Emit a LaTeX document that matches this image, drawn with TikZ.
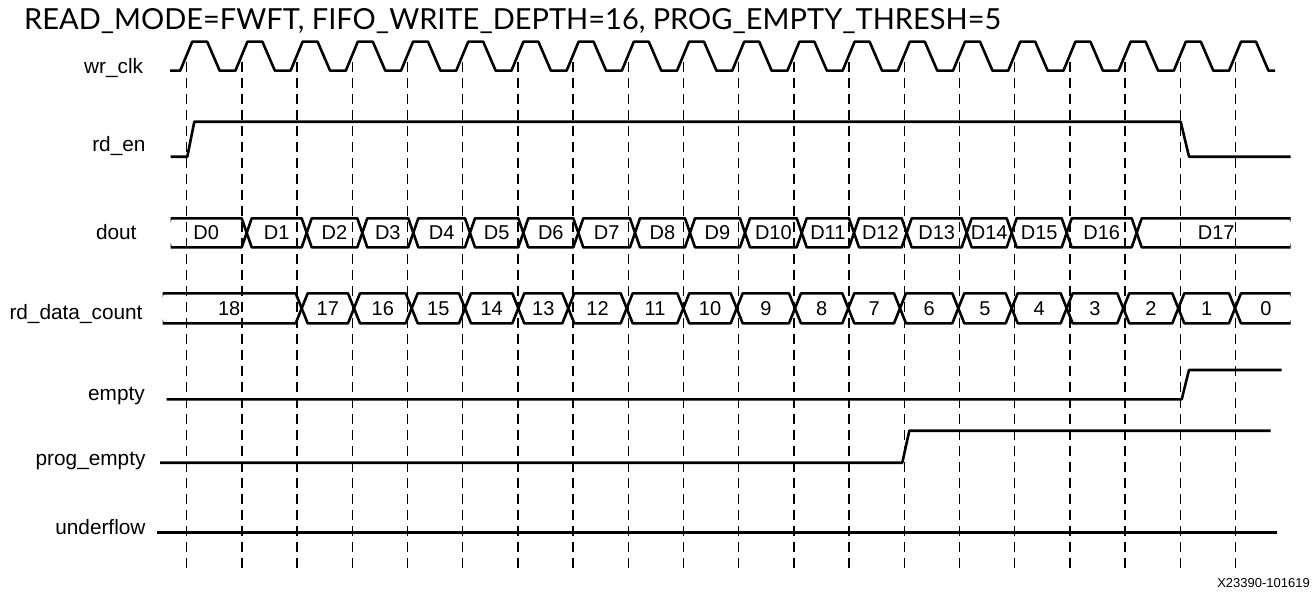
\documentclass[tikz,border=0pt]{standalone}
\usepackage{fontspec}
\setmainfont{Liberation Sans}
\newfontfamily\titlefont{Lato}
\usepackage{tikz}
\newcommand{\sigsz}  {\fontsize{20.8}{22}\selectfont}
\newcommand{\valsz}  {\fontsize{20}{22}\selectfont}

\begin{document}
\begin{tikzpicture}[x=1pt,y=-1pt,
    wave/.style={line width=2.6pt,line join=round},
    edgeline/.style={line width=1.5pt,dash pattern=on 10pt off 6pt},
    signame/.style={anchor=base east,inner sep=0pt,font=\sigsz},
    busval/.style={inner sep=0pt,font=\valsz}]
    \useasboundingbox (0,0) rectangle (1315,594);
    \node[anchor=base west,inner sep=0pt,font=\titlefont\fontsize{29}{31}\selectfont] (title) at (24,30)
        {READ\_MODE=FWFT, FIFO\_WRITE\_DEPTH=16, PROG\_EMPTY\_THRESH=5};
    \foreach \i in {0,...,19}
        \draw[edgeline] ({186.7+55.2*\i},62) -- ({186.7+55.2*\i},570);
    \draw[wave] (170,70.7) foreach \i in {0,...,19} {
        -- ({180.2+55.2*\i},70.7) -- ({192.2+55.2*\i},41.7)
        -- ({207.2+55.2*\i},41.7) -- ({219.7+55.2*\i},70.7) } -- (1275,70.7);
    \draw[wave] (170.7,156.7) -- (187.3,156.7) -- (194.3,121.7) -- (1180.7,121.7) -- (1189,156.7) -- (1290.7,156.7);
    \begin{scope}
        \clip (170.7,200) rectangle (1290.7,260);
        \foreach \a/\b/\v [count=\k] in {165.7/246.7/D0, 246.7/306.7/D1, 306.7/362.3/D2, 362.3/413.3/D3,
            413.3/470/D4, 470/523.3/D5, 523.3/578.3/D6, 578.3/635/D7, 635/690/D8, 690/745/D9,
            745/801.7/D10, 801.7/854/D11, 854/906.7/D12, 906.7/966.7/D13, 966.7/1011.7/D14,
            1011.7/1066.7/D15, 1066.7/1136.7/D16, 1136.7/1295.7/D17} {
            \draw[wave] (\a,232.8) -- ({\a+5},218.3) -- ({\b-5},218.3) -- (\b,232.8)
                -- ({\b-5},247.3) -- ({\a+5},247.3) -- cycle;
            \node[busval] (dout\k) at ({(\a+\b)/2},232.8) {\v};
        }
    \end{scope}
    \begin{scope}
        \clip (162.7,280) rectangle (1290.7,340);
        \foreach \a/\b/\v [count=\k] in {156.7/301.7/18, 301.7/354/17, 354/411.7/16, 411.7/465/15,
            465/518.3/14, 518.3/568.3/13, 568.3/626.7/12, 626.7/683.3/11, 683.3/736.7/10,
            736.7/795/9, 795/848.3/8, 848.3/900/7, 900/958.3/6, 958.3/1011.7/5, 1011.7/1066.7/4,
            1066.7/1123.3/3, 1123.3/1178.3/2, 1178.3/1235/1, 1235/1296.7/0} {
            \draw[wave] (\a,308.3) -- ({\a+6},293.3) -- ({\b-6},293.3) -- (\b,308.3)
                -- ({\b-6},323.3) -- ({\a+6},323.3) -- cycle;
            \node[busval] (cnt\k) at ({(\a+\b)/2},308.3) {\v};
        }
    \end{scope}
    \draw[wave] (166.7,399.3) -- (1181.7,399.3) -- (1189,370) -- (1281.7,370);
    \draw[wave] (160,462.7) -- (902.3,462.7) -- (909.3,430.7) -- (1270.7,430.7);
    \draw[wave] (156.7,532.3) -- (1276.7,532.3);
    \node[signame] (wrclk)  at (143.3,73.3)  {wr\_clk};
    \node[signame] (rden)   at (145.7,151)   {rd\_en};
    \node[signame] (dout)   at (136.7,239.3) {dout};
    \node[signame] (rdcnt)  at (142.7,319.3) {rd\_data\_count};
    \node[signame] (empty)  at (145,400.5)   {empty};
    \node[signame] (pempty) at (145.7,465)   {prog\_empty};
    \node[signame] (uflow)  at (145.7,534)   {underflow};
    \node[anchor=base east,inner sep=0pt,font=\fontsize{13}{15}\selectfont] (figid) at (1310,587) {X23390-101619};
\end{tikzpicture}
\end{document}
